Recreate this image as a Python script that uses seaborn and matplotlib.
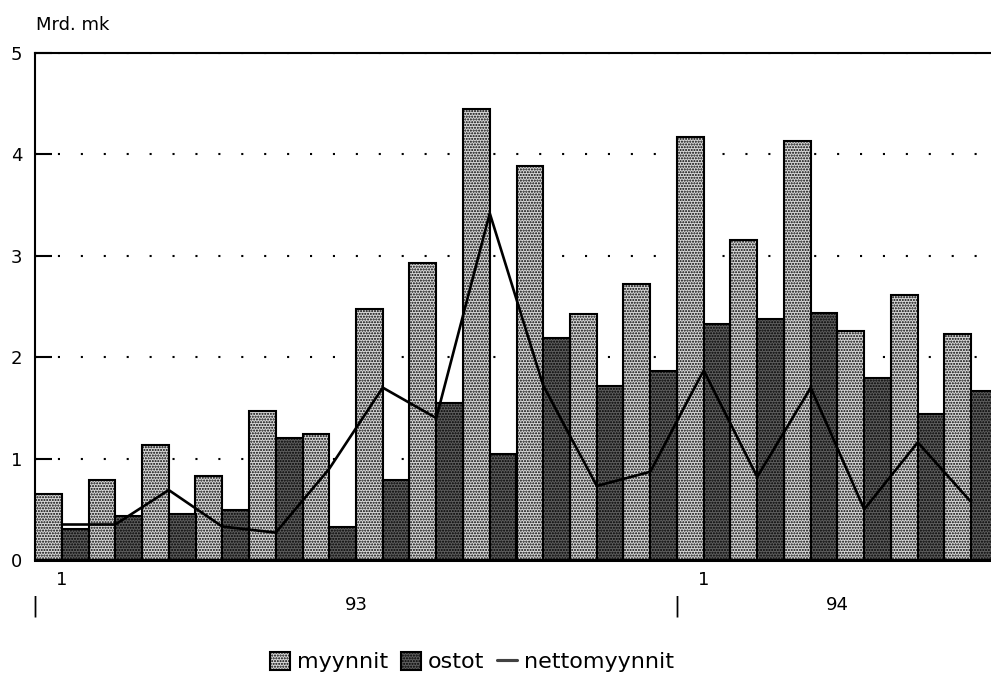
import numpy as np
import pandas as pd
import seaborn as sns
import matplotlib.pyplot as plt
from matplotlib.transforms import blended_transform_factory

# Kuukausittaiset arvot 1/93 - 6/94, Mrd. mk
kuukausi = np.arange(18)
kk_tunnus = ["1", "1"]
kk_paikat = [0, 12]
vuodet = ["93", "94"]
vuosi_paikat = [5.5, 14.5]
vuosi_rajat = [-0.5, 11.5]

myynnit = [0.65, 0.79, 1.13, 0.83, 1.47, 1.24, 2.48, 2.93, 4.45,
           3.89, 2.43, 2.72, 4.17, 3.16, 4.13, 2.26, 2.61, 2.23]
ostot = [0.31, 0.43, 0.45, 0.49, 1.20, 0.33, 0.79, 1.55, 1.05,
         2.19, 1.72, 1.86, 2.33, 2.38, 2.44, 1.79, 1.44, 1.67]
nettomyynnit = [0.35, 0.35, 0.69, 0.33, 0.27, 0.90, 1.70, 1.40, 3.42,
                1.72, 0.73, 0.87, 1.87, 0.82, 1.70, 0.50, 1.16, 0.57]

df = pd.DataFrame({
    "kk": np.concatenate([kuukausi, kuukausi]),
    "sarja": ["myynnit"] * len(myynnit) + ["ostot"] * len(ostot),
    "arvo": myynnit + ostot,
})

sns.set_style("white")
plt.rcParams["font.family"] = ["DejaVu Sans"]
plt.rcParams["hatch.linewidth"] = 1.0
plt.rcParams["text.color"] = "black"
plt.rcParams["xtick.color"] = "black"
plt.rcParams["ytick.color"] = "black"
plt.rcParams["xtick.labelcolor"] = "black"
plt.rcParams["ytick.labelcolor"] = "black"

fig = plt.figure(figsize=(9.91, 6.84), dpi=100)
ax = fig.add_axes([35 / 991, 124 / 684, 956 / 991, 507 / 684])

sns.barplot(data=df, x="kk", y="arvo", hue="sarja", native_scale=True,
            palette=["#d8d8d8", "#5e5e5e"], saturation=1, width=1.0, gap=0,
            edgecolor="black", linewidth=1.5, legend=False, ax=ax, zorder=2)
for cont in ax.containers:
    for bar in cont:
        bar.set_hatch("......")

sns.lineplot(x=kuukausi, y=nettomyynnit, color="black", linewidth=1.9,
             ax=ax, zorder=3, label="nettomyynnit")

ax.set_xlim(-0.5, -0.5 + 956 / 53.5)
ax.set_ylim(0, 5)
ax.set_xlabel("")
ax.set_ylabel("")

ax.set_yticks([0, 1, 2, 3, 4, 5])
ax.tick_params(axis="y", direction="in", length=12, width=1.5, pad=9, labelsize=13, left=True)
ax.set_xticks(kk_paikat)
ax.set_xticklabels(kk_tunnus)
ax.tick_params(axis="x", length=0, pad=8, labelsize=13)

ax.yaxis.grid(True, linestyle=(0, (1, 10)), linewidth=1.5, color="black", zorder=0)
ax.set_axisbelow(True)

for side in ["left", "top"]:
    ax.spines[side].set_linewidth(1.5)
    ax.spines[side].set_color("black")
ax.spines["bottom"].set_linewidth(2.2)
ax.spines["bottom"].set_color("black")
ax.spines["right"].set_visible(False)

trans = blended_transform_factory(ax.transData, fig.transFigure)
for v, p in zip(vuodet, vuosi_paikat):
    ax.text(p, 1 - 605 / 684, v, transform=trans, ha="center", va="center", fontsize=13)
for r in vuosi_rajat:
    ax.text(r, 1 - 606 / 684, "|", transform=trans, ha="center", va="center", fontsize=15)

fig.text(36 / 991, 1 - 25 / 684, "Mrd. mk", ha="left", va="center", fontsize=13)

handles = [ax.containers[0], ax.containers[1], ax.lines[0]]
leg = ax.legend(handles, ["myynnit", "ostot", "nettomyynnit"], loc="center",
                bbox_to_anchor=(472 / 991, 1 - 662 / 684), bbox_transform=fig.transFigure,
                ncol=3, frameon=False, fontsize=16, handlelength=0.9, handleheight=0.9,
                handletextpad=0.3, columnspacing=0.6)
for t in leg.get_texts():
    t.set_color("black")

plt.savefig("out.png", dpi=100)
